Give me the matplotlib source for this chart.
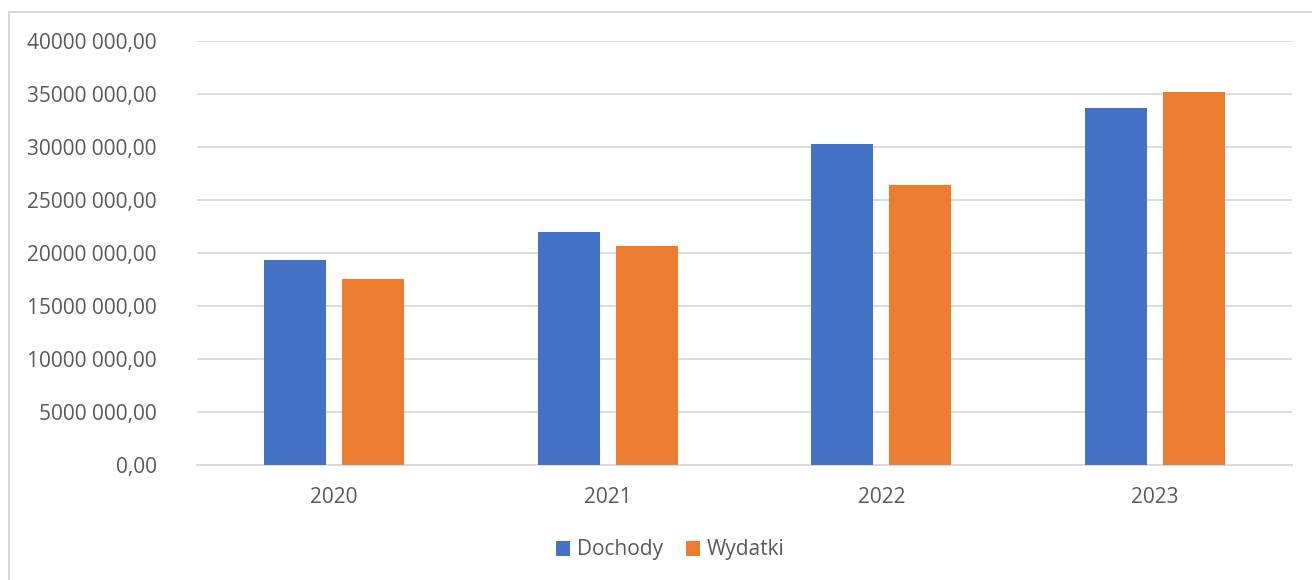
import matplotlib
matplotlib.use("Agg")
import matplotlib.pyplot as plt
import numpy as np
from matplotlib.lines import Line2D

years = ["2020", "2021", "2022", "2023"]
dochody = [19310000, 21950000, 30280000, 33680000]
wydatki = [17520000, 20660000, 26420000, 35190000]
yticks = [0, 5000000, 10000000, 15000000, 20000000, 25000000, 30000000, 35000000, 40000000]

plt.rcParams['font.family'] = ['Open Sans', 'DejaVu Sans']
W, H = 1312, 580
fig = plt.figure(figsize=(W / 100, H / 100), dpi=100)
ax = fig.add_axes([197 / W, (H - 465) / H, (1292 - 197) / W, (465 - 41) / H])

x = np.arange(len(years))
bw = 0.2265
gap = 0.058
off = (bw + gap) / 2
ax.bar(x - off, dochody, bw, color="#4472C4", label="Dochody", zorder=3)
ax.bar(x + off, wydatki, bw, color="#ED7D31", label="Wydatki", zorder=3)

ax.set_xlim(-0.5, len(years) - 0.5)
ax.set_ylim(0, 40000000)
ax.set_yticks(yticks)
ax.set_yticklabels([f"{v // 1000} 000,00" if v > 0 else "0,00" for v in yticks])
ax.set_xticks(x)
ax.set_xticklabels(years)
ax.grid(axis="y", color="#D9D9D9", linewidth=1.3, zorder=0)
for s in ["top", "right", "left"]:
    ax.spines[s].set_visible(False)
ax.spines["bottom"].set_color("#D9D9D9")
ax.spines["bottom"].set_linewidth(1.3)
ax.tick_params(axis="both", length=0, labelsize=15, labelcolor="#595959")
ax.tick_params(axis="y", pad=29)
ax.tick_params(axis="x", pad=16)

leg = fig.legend(loc="center", bbox_to_anchor=(670 / W, (H - 550) / H), ncol=2, frameon=False,
                 fontsize=15, labelcolor="#595959", handlelength=0.7, handleheight=0.7,
                 handletextpad=0.3, columnspacing=1.1)

fig.add_artist(Line2D([8.5 / W, 8.5 / W], [0, (H - 11.5) / H], transform=fig.transFigure,
                      color="#D9D9D9", linewidth=1.5))
fig.add_artist(Line2D([8.5 / W, 1], [(H - 11.5) / H, (H - 11.5) / H], transform=fig.transFigure,
                      color="#D9D9D9", linewidth=1.5))

fig.savefig("out.png", dpi=100, facecolor="white")
